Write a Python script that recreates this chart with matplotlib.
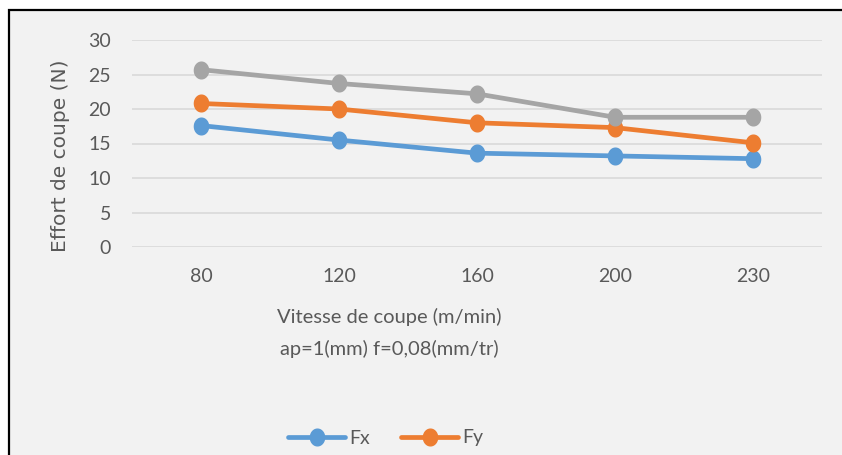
import numpy as np
import matplotlib.pyplot as plt
from matplotlib.patches import Rectangle
from matplotlib.path import Path

vitesse = ['80', '120', '160', '200', '230']
fx = [17.6, 15.5, 13.6, 13.2, 12.8]
fy = [20.8, 20.0, 18.0, 17.3, 15.1]
fz = [25.7, 23.7, 22.2, 18.8, 18.8]

plt.rcParams['font.family'] = ['Lato', 'DejaVu Sans']
txt = '#595959'

# the source picture is a little stretched vertically: oval markers
t = np.linspace(0, 2 * np.pi, 60)
oval = Path(np.column_stack([0.85 * np.cos(t), np.sin(t)]), closed=True)

W, H = 842, 455
fig = plt.figure(figsize=(W / 100, H / 100), dpi=100, facecolor='white')
fig.patches.append(Rectangle((9 / W, -0.1), 1.0, (H - 10) / H + 0.1,
                             transform=fig.transFigure, facecolor='#F2F2F2',
                             edgecolor='black', linewidth=1.6, zorder=-10))

ax = fig.add_axes([132 / W, (H - 247) / H, (822 - 132) / W, 207 / H])
ax.set_facecolor('none')

x = range(len(vitesse))
style = dict(lw=3.4, marker=oval, ms=12, solid_capstyle='round')
l1, = ax.plot(x, fx, color='#5B9BD5', label='Fx', **style)
l2, = ax.plot(x, fy, color='#ED7D31', label='Fy', **style)
ax.plot(x, fz, color='#A5A5A5', label='Fz', **style)

ax.set_xlim(-0.5, len(vitesse) - 0.5)
ax.set_ylim(0, 30)
ax.set_yticks(range(0, 31, 5))
ax.set_xticks(list(x))
ax.set_xticklabels(vitesse)
ax.grid(axis='y', color='#D9D9D9', lw=1.2)
ax.set_axisbelow(True)
for s in ax.spines.values():
    s.set_visible(False)
ax.tick_params(length=0, labelsize=14, labelcolor=txt)
ax.tick_params(axis='x', pad=15)
ax.tick_params(axis='y', pad=15)

fig.text(61 / W, 1 - 156 / H, 'Effort de coupe (N)', rotation=90, ha='center', va='center',
         fontsize=14.5, color=txt, family=['DejaVu Sans'])
fig.text(389 / W, 1 - 317 / H, 'Vitesse de coupe (m/min)', ha='center', va='center',
         fontsize=14.5, color=txt)
fig.text(389 / W, 1 - 349 / H, 'ap=1(mm) f=0,08(mm/tr)', ha='center', va='center',
         fontsize=14.5, color=txt)

fig.legend(handles=[l1, l2], loc='center', bbox_to_anchor=(386 / W, 1 - 438 / H),
           ncol=2, frameon=False, fontsize=14, labelcolor=txt, handlelength=2.9,
           columnspacing=1.6, handletextpad=0.25)

fig.savefig('out.png', dpi=100)
